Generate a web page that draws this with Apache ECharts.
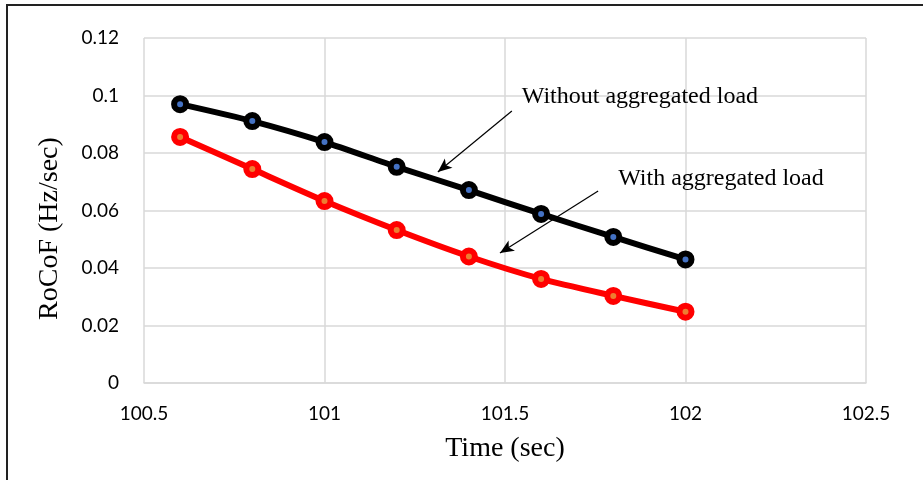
<!DOCTYPE html>
<html>
<head>
<meta charset="utf-8">
<script src="https://cdn.jsdelivr.net/npm/echarts@6/dist/echarts.min.js"></script>
<style>
  html, body { margin: 0; padding: 0; background: #fff; }
  #chart { width: 923px; height: 480px; }
</style>
</head>
<body>
<div id="chart"></div>
<script>
// time points (sec)
const times = [100.6, 100.8, 101, 101.2, 101.4, 101.6, 101.8, 102];
// RoCoF values
const withoutLoad = [0.0970, 0.0911, 0.0838, 0.0752, 0.0671, 0.0588, 0.0508, 0.0430];
const withLoad = [0.0856, 0.0744, 0.0633, 0.0532, 0.0440, 0.0362, 0.0303, 0.0248];

// annotation arrows [from, to] in data coords
const arrowWithout = [[101.519, 0.0946], [101.314, 0.0734]];
const arrowWith = [[101.758, 0.0668], [101.486, 0.0452]];
const noteWithout = { text: 'Without aggregated load', at: [101.545, 0.0995] };
const noteWith = { text: 'With aggregated load', at: [101.812, 0.0712] };

const chart = echarts.init(document.getElementById('chart'));

const serif = '"Liberation Serif", "Times New Roman", serif';
const sans = 'Lato, "Open Sans", sans-serif';

function pairs(ys) {
  return times.map((t, i) => [t, ys[i]]);
}

function arrowLine(a) {
  return {
    silent: true,
    symbol: ['none', 'arrow'],
    symbolSize: [9, 14],
    lineStyle: { color: '#000', width: 1.2, type: 'solid' },
    label: { show: false },
    data: [[{ coord: a[0] }, { coord: a[1] }]]
  };
}

function note(n) {
  return {
    silent: true,
    symbol: 'circle',
    symbolSize: 1,
    itemStyle: { color: 'rgba(0,0,0,0)' },
    label: {
      show: true,
      position: 'right',
      distance: 0,
      formatter: n.text,
      fontFamily: serif,
      fontSize: 24,
      color: '#000'
    },
    data: [{ coord: n.at }]
  };
}

const option = {
  animation: false,
  backgroundColor: '#fff',
  grid: { left: 144, right: 57, top: 38, bottom: 97 },
  xAxis: {
    type: 'value',
    min: 100.5,
    max: 102.5,
    interval: 0.5,
    name: 'Time (sec)',
    nameLocation: 'middle',
    nameGap: 52,
    nameTextStyle: { fontFamily: serif, fontSize: 28, color: '#000' },
    axisLine: { show: true, lineStyle: { color: '#d9d9d9', width: 1.5 } },
    axisTick: { show: false },
    axisLabel: { fontFamily: sans, fontSize: 19, color: '#000', margin: 21 },
    splitLine: { show: true, lineStyle: { color: '#d9d9d9', width: 1.5 } }
  },
  yAxis: {
    type: 'value',
    min: 0,
    max: 0.12,
    interval: 0.02,
    name: 'RoCoF (Hz/sec)',
    nameLocation: 'middle',
    nameGap: 80,
    nameTextStyle: { fontFamily: serif, fontSize: 28, color: '#000', padding: [0, 36, 0, 0] },
    axisLine: { show: false },
    axisTick: { show: false },
    axisLabel: { fontFamily: sans, fontSize: 19, color: '#000', margin: 25 },
    splitLine: { show: true, lineStyle: { color: '#d9d9d9', width: 1.5 } }
  },
  graphic: [
    {
      type: 'polyline',
      silent: true,
      shape: { points: [[7, 480], [7, 5], [923, 5]] },
      style: { stroke: '#222', lineWidth: 2, fill: null }
    }
  ],
  series: [
    {
      name: 'Without aggregated load',
      type: 'line',
      smooth: 0.25,
      data: pairs(withoutLoad),
      symbol: 'circle',
      symbolSize: 12,
      lineStyle: { color: '#000', width: 6 },
      itemStyle: { color: '#4472c4', borderColor: '#000', borderWidth: 6 },
      markLine: arrowLine(arrowWithout),
      markPoint: note(noteWithout),
      z: 3
    },
    {
      name: 'With aggregated load',
      type: 'line',
      smooth: 0.25,
      data: pairs(withLoad),
      symbol: 'circle',
      symbolSize: 12,
      lineStyle: { color: '#ff0000', width: 6 },
      itemStyle: { color: '#ed7d31', borderColor: '#ff0000', borderWidth: 6 },
      markLine: arrowLine(arrowWith),
      markPoint: note(noteWith),
      z: 2
    }
  ]
};

chart.setOption(option);

window.addEventListener('resize', () => {
  chart.resize();
});
</script>
</body>
</html>
